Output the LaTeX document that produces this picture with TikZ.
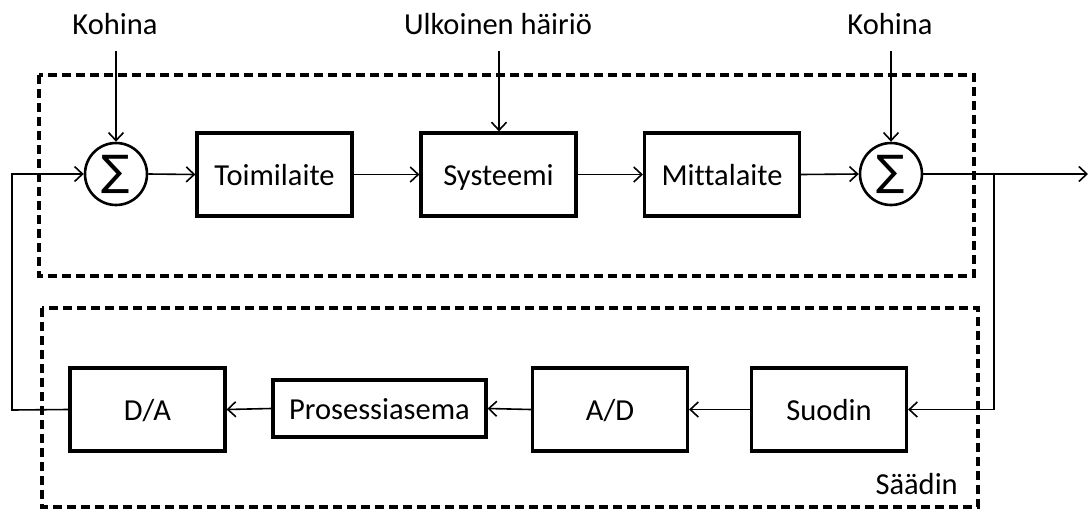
\documentclass[tikz,border=0pt]{standalone}
\usepackage{fontspec}
\setmainfont{Carlito}[Ligatures={NoCommon}]
\newfontfamily\symfont{DejaVu Sans}
\usetikzlibrary{arrows.meta}
\begin{document}
\begin{tikzpicture}[x=1pt,y=-1pt,
  blk/.style={draw,line width=3.2pt,inner sep=0pt,minimum height=83pt,minimum width=155pt,
    font=\fontsize{30.5}{32}\selectfont,text height=28pt,text depth=7pt},
  sumnode/.style={draw,circle,line width=2.6pt,minimum size=62pt,inner sep=0pt},
  sumsym/.style={font=\symfont\fontsize{42}{42}\selectfont},
  conn/.style={line width=1.6pt,-{Straight Barb[length=8pt,width=15pt,line width=1.6pt]}},
  dashbox/.style={draw,line width=3.2pt,dash pattern=on 9pt off 5pt},
  lbl/.style={font=\fontsize{30.5}{32}\selectfont,anchor=base,inner sep=0pt}]
\useasboundingbox (0,0) rectangle (1090,509);
% dashed boxes
\draw[dashbox] (39,75) rectangle (974,276);
\draw[dashbox] (42,308) rectangle (978,507);
% top row
\node[sumnode] (s1) at (116,174) {};
\node[sumsym] at (s1) {∑};
\node[blk] (toim) at (274.5,174.5) {Toimilaite};
\node[blk] (sys) at (498.5,174.5) {Systeemi};
\node[blk] (mitt) at (722,174.5) {Mittalaite};
\node[sumnode] (s2) at (891,174) {};
\node[sumsym] at (s2) {∑};
% bottom row
\node[blk] (da) at (147.5,409.5) {D/A};
\node[blk,minimum width=213pt,minimum height=57pt] (pros) at (379.5,408.5) {Prosessiasema};
\node[blk] (ad) at (610,409.5) {A/D};
\node[blk] (suod) at (829,409.5) {Suodin};
% labels
\node[lbl] (k1) at (115,34) {Kohina};
\node[lbl] (uh) at (498,34) {Ulkoinen häiriö};
\node[lbl] (k2) at (890,34) {Kohina};
\node[lbl,anchor=base east] (saad) at (958,494) {Säädin};
% coordinates
\coordinate (k1s) at (116,51);
\coordinate (uhs) at (499,51);
\coordinate (k2s) at (891,51);
\coordinate (out) at (1088,174);
\coordinate (br) at (994,174);
\coordinate (fb) at (12,410);
% connectors
\draw[conn] (k1s) -- (s1.north);
\draw[conn] (uhs) -- (uhs |- sys.north);
\draw[conn] (k2s) -- (s2.north);
\draw[conn] (s1.east) -- (toim.west);
\draw[conn] (toim.east) -- (sys.west);
\draw[conn] (sys.east) -- (mitt.west);
\draw[conn] (mitt.east) -- (s2.west);
\draw[conn] (s2.east) -- (out);
\draw[conn] (br) -- (br |- suod.east) -- (suod.east);
\draw[conn] (suod.west) -- (ad.east);
\draw[conn] (ad.west) -- (pros.east);
\draw[conn] (pros.west) -- (da.east);
\draw[conn] (da.west) -- (fb) -- (fb |- s1.west) -- (s1.west);
\end{tikzpicture}
\end{document}
